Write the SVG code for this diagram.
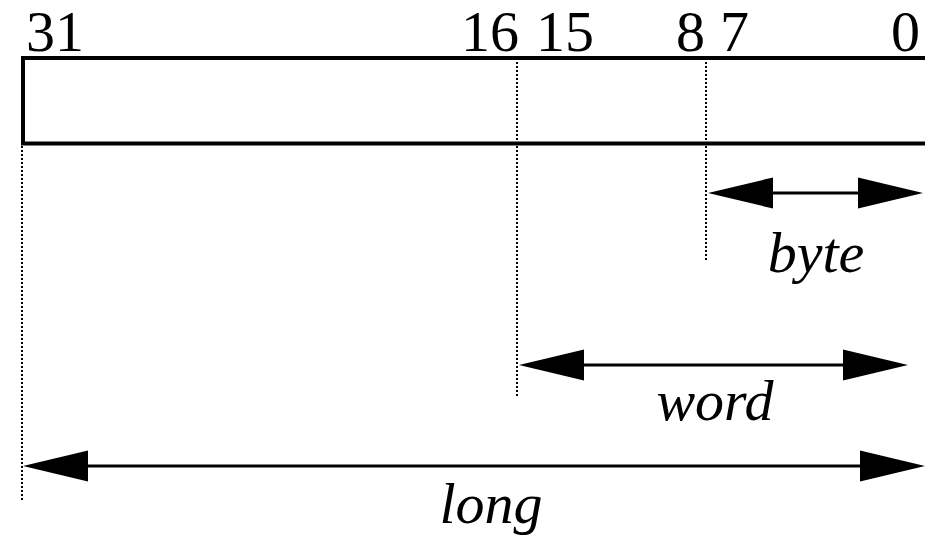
<svg xmlns="http://www.w3.org/2000/svg" width="925" height="540" viewBox="0 0 925 540">
  <style>
    .num { font-family: "Liberation Serif", "Times New Roman", serif; font-size: 58px; fill: #000; }
    .lbl { font-family: "Liberation Serif", "Times New Roman", serif; font-size: 58px; font-style: italic; fill: #000; text-anchor: middle; }
    .dot { stroke: #000; stroke-width: 2; stroke-dasharray: 2 2; fill: none; }
    .arr { stroke: #000; stroke-width: 3; fill: none; marker-start: url(#head); marker-end: url(#head); }
  </style>
  <defs>
    <marker id="head" markerUnits="userSpaceOnUse" markerWidth="65" markerHeight="31" refX="5" refY="15.5" orient="auto-start-reverse" overflow="visible">
      <path d="M0,0 L65,15.5 L0,31 Z" fill="#000"/>
    </marker>
  </defs>
  <rect width="925" height="540" fill="#fff"/>

  <g id="register">
    <rect x="23" y="58" width="920" height="85.5" fill="none" stroke="#000" stroke-width="4"/>
  </g>

  <g id="bit-labels">
    <text class="num" x="26" y="51">31</text>
    <text class="num" x="461" y="51">16</text>
    <text class="num" x="536" y="51">15</text>
    <text class="num" x="676" y="51">8</text>
    <text class="num" x="720" y="51">7</text>
    <text class="num" x="891" y="51">0</text>
  </g>

  <g id="connectors">
    <line class="dot" x1="22" y1="146" x2="22" y2="500"/>
    <line class="dot" x1="517" y1="62" x2="517" y2="398"/>
    <line class="dot" x1="706" y1="62" x2="706" y2="262"/>
    <line class="arr" x1="768" y1="193" x2="863" y2="193"/>
    <line class="arr" x1="579" y1="365" x2="848" y2="365"/>
    <line class="arr" x1="83" y1="466" x2="865" y2="466"/>
  </g>

  <g id="byte"><text class="lbl" x="816" y="272">byte</text></g>
  <g id="word"><text class="lbl" x="715" y="420">word</text></g>
  <g id="long"><text class="lbl" x="491" y="523">long</text></g>
</svg>
